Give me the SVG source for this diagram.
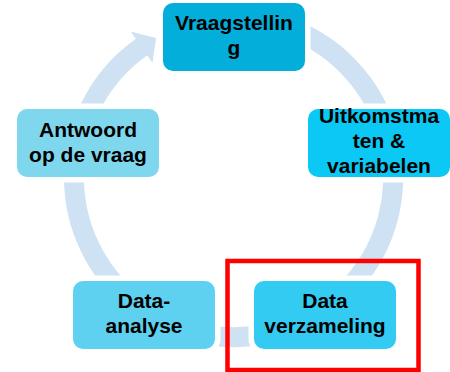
<svg xmlns="http://www.w3.org/2000/svg" width="450" height="372" viewBox="0 0 450 372">
  <style>
    .box { stroke: #ffffff; stroke-width: 11; paint-order: stroke; }
    .lbl { font-family: "Liberation Sans", Arial, sans-serif; font-weight: bold; font-size: 21px; fill: #000000; text-anchor: middle; }
    .ring { fill: none; stroke: #CFE2F3; stroke-width: 20; stroke-linecap: butt; }
  </style>
  <rect width="450" height="372" fill="#ffffff"/>
  <g id="connectors">
    <path class="ring" d="M 219.6 18.5 A 159.6 159.6 0 1 1 142.4 46.5"/>
    <polygon points="130.6,31.6 156.1,37.9 152.5,62.7" fill="#CFE2F3"/>
  </g>
  <g id="node-vraagstelling">
    <rect class="box" x="163" y="3" width="142" height="68" rx="10" fill="#03AEDB"/>
    <text class="lbl" x="234" y="30">Vraagstellin</text>
    <text class="lbl" x="234" y="55">g</text>
  </g>
  <g id="node-uitkomstmaten">
    <rect class="box" x="308" y="109" width="142" height="68" rx="10" fill="#0BC8F4"/>
    <text class="lbl" x="379" y="123">Uitkomstma</text>
    <text class="lbl" x="379" y="148">ten &amp;</text>
    <text class="lbl" x="379" y="173">variabelen</text>
  </g>
  <g id="node-dataverzameling">
    <rect class="box" x="254" y="281" width="142" height="68" rx="10" fill="#33CBF1"/>
    <text class="lbl" x="325" y="308">Data</text>
    <text class="lbl" x="325" y="333">verzameling</text>
  </g>
  <g id="node-dataanalyse">
    <rect class="box" x="73" y="281" width="142" height="68" rx="10" fill="#5DD1EF"/>
    <text class="lbl" x="144" y="308">Data-</text>
    <text class="lbl" x="144" y="333">analyse</text>
  </g>
  <g id="node-antwoord">
    <rect class="box" x="17" y="109" width="142" height="68" rx="10" fill="#7FD7EE"/>
    <text class="lbl" x="88" y="137">Antwoord</text>
    <text class="lbl" x="88" y="162">op de vraag</text>
  </g>
  <g id="highlight">
    <rect x="227.5" y="261" width="191" height="109" fill="none" stroke="#FF0000" stroke-width="4.5"/>
  </g>
</svg>
